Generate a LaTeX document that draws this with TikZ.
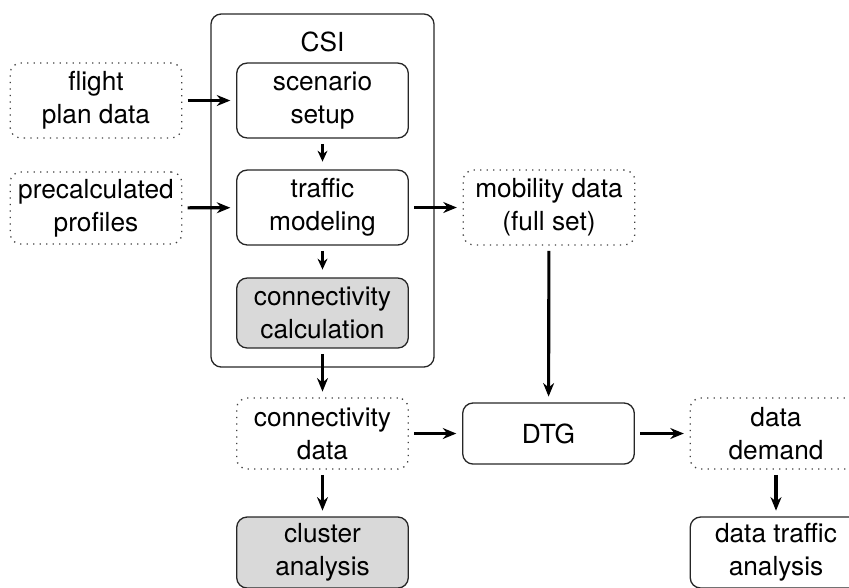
\documentclass[tikz,border=0pt]{standalone}
\usepackage{fontspec}
\setmainfont{TeX Gyre Heros}
\usetikzlibrary{arrows.meta}
\begin{document}
\begin{tikzpicture}[x=0.3846pt,y=-0.3846pt,
  font=\fontsize{10.1}{12.7}\selectfont,
  box/.style={draw=black!85, line width=0.5pt, rounded corners=4pt, align=center,
    minimum width=66pt, inner xsep=1pt, inner ysep=1pt},
  databox/.style={box, draw=black!75, dotted},
  shaded/.style={box, fill=black!15},
  arr/.style={-{Stealth[length=5.2pt,width=4.2pt]}, line width=1.2pt, shorten <=2pt, shorten >=2.2pt},
  inarr/.style={-{Stealth[length=4.2pt,width=3.8pt]}, line width=1pt, shorten <=2pt, shorten >=3pt}]
\clip (0,0) rectangle (849,587);
\useasboundingbox (0,0) rectangle (849,587);

% CSI frame
\node[draw=black!85, line width=0.5pt, rounded corners=4pt, minimum width=85.8pt, minimum height=135.8pt, inner sep=0pt] (csi) at (322.5,190.5) {};
\node (csilabel) at (322.5,42) {CSI};

\node[databox, minimum height=28.8pt] (flight) at (96,100.5) {flight\\plan data};
\node[databox, minimum height=27.7pt] (precalc) at (96,208) {precalculated\\profiles};

\node[box, minimum height=28.8pt] (scenario) at (322.5,100.5) {scenario\\setup};
\node[box, minimum height=28.8pt] (traffic) at (322.5,207.5) {traffic\\modeling};
\node[shaded, minimum height=26.9pt] (conncalc) at (322.5,313) {connectivity\\calculation};

\node[databox, minimum height=28.8pt] (mobility) at (549,207.5) {mobility data\\(full set)};

\node[databox, minimum height=27.3pt] (conndata) at (322.5,433.5) {connectivity\\data};
\node[box, minimum height=23.5pt] (dtg) at (548.5,433.5) {DTG};
\node[databox, minimum height=27.3pt] (demand) at (776,433.5) {data\\demand};

\node[shaded, minimum height=27.3pt] (cluster) at (322.5,552.5) {cluster\\analysis};
\node[box, minimum height=27.3pt] (dta) at (776,552.5) {data traffic\\analysis};

\draw[arr] (flight) -- (scenario);
\draw[arr] (precalc) -- (traffic);
\draw[inarr] (scenario) -- (traffic);
\draw[inarr] (traffic) -- (conncalc);
\draw[arr] (traffic) -- (mobility);
\draw[arr] (conncalc) -- (conndata);
\draw[arr] (mobility) -- (dtg);
\draw[arr] (conndata) -- (dtg);
\draw[arr] (dtg) -- (demand);
\draw[arr] (conndata) -- (cluster);
\draw[arr] (demand) -- (dta);
\end{tikzpicture}
\end{document}
